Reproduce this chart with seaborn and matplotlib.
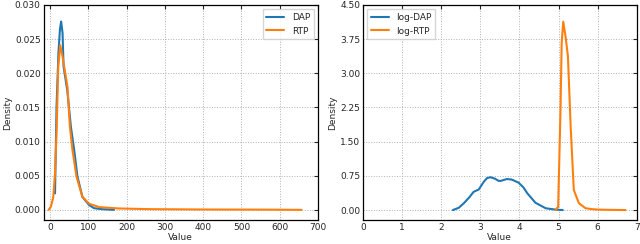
import matplotlib
matplotlib.use("Agg")
import matplotlib.pyplot as plt
import pandas as pd
import seaborn as sns
from matplotlib.ticker import FormatStrFormatter, MultipleLocator

# density curves (left: raw values, right: log values)
dap_x = [13, 17, 22, 26, 29, 32.7, 35.3, 45, 54.4, 63, 71.5, 84.5, 102, 115, 135, 167]
dap_y = [0.0024, 0.0151, 0.0230, 0.0265, 0.02756, 0.0259, 0.0210, 0.0175, 0.0122, 0.0088,
         0.0049, 0.0019, 0.0007, 0.00024, 0.0001, 0.0]
rtp_x = [-3.6, 2.6, 8.5, 13, 17, 21.5, 26.7, 32.7, 45.6, 51.8, 58.5, 69, 84.5, 102, 128,
         180, 260, 400, 550, 657]
rtp_y = [0.0, 0.0005, 0.0019, 0.0054, 0.0112, 0.0210, 0.0241, 0.0224, 0.0180, 0.0122,
         0.0088, 0.0049, 0.0019, 0.0009, 0.0004, 0.0002, 0.0001, 0.00005, 0.00003, 0.0]

log_dap_x = [2.30, 2.45, 2.58, 2.72, 2.83, 2.96, 3.09, 3.17, 3.26, 3.37, 3.47, 3.52, 3.68,
             3.80, 3.98, 4.10, 4.20, 4.41, 4.67, 4.92, 5.11]
log_dap_y = [0.0, 0.05, 0.15, 0.28, 0.40, 0.45, 0.62, 0.70, 0.72, 0.69, 0.64, 0.64, 0.68,
             0.67, 0.60, 0.50, 0.37, 0.16, 0.04, 0.01, 0.0]
log_rtp_x = [4.92, 4.99, 5.05, 5.08, 5.12, 5.18, 5.24, 5.31, 5.39, 5.52, 5.69, 5.85, 6.01,
             6.30, 6.71]
log_rtp_y = [0.0, 0.07, 2.19, 3.66, 4.13, 3.80, 3.37, 1.83, 0.44, 0.15, 0.04, 0.02, 0.01,
             0.005, 0.0]

sns.set_style("white")
plt.rcParams["font.family"] = ["DejaVu Sans"]
plt.rcParams["font.size"] = 6.5

blue = "#1f77b4"
orange = "#ff7f0e"

fig = plt.figure(figsize=(6.4, 2.44), dpi=100)
ax1 = fig.add_axes([0.068, 0.098, 0.429, 0.882])
ax2 = fig.add_axes([0.567, 0.098, 0.428, 0.882])


def curve_frame(x, y):
    return pd.DataFrame({"Value": x, "Density": y})


sns.lineplot(data=curve_frame(dap_x, dap_y), x="Value", y="Density", ax=ax1,
             color=blue, lw=1.5, label="DAP", sort=False)
sns.lineplot(data=curve_frame(rtp_x, rtp_y), x="Value", y="Density", ax=ax1,
             color=orange, lw=1.5, label="RTP", sort=False)
sns.lineplot(data=curve_frame(log_dap_x, log_dap_y), x="Value", y="Density", ax=ax2,
             color=blue, lw=1.5, label="log-DAP", sort=False)
sns.lineplot(data=curve_frame(log_rtp_x, log_rtp_y), x="Value", y="Density", ax=ax2,
             color=orange, lw=1.5, label="log-RTP", sort=False)

ax1.set_xlim(-17, 700)
ax1.set_ylim(-0.0015, 0.030)
ax1.xaxis.set_major_locator(MultipleLocator(100))
ax1.yaxis.set_major_locator(MultipleLocator(0.005))
ax1.yaxis.set_major_formatter(FormatStrFormatter("%.3f"))
ax1.legend(loc="upper right", fontsize=6.5, fancybox=False, edgecolor="#cccccc")

ax2.set_xlim(0, 7)
ax2.set_ylim(-0.22, 4.5)
ax2.xaxis.set_major_locator(MultipleLocator(1))
ax2.yaxis.set_major_locator(MultipleLocator(0.75))
ax2.yaxis.set_major_formatter(FormatStrFormatter("%.2f"))
ax2.legend(loc="upper left", fontsize=6.5, fancybox=False, edgecolor="#cccccc")

for ax in (ax1, ax2):
    ax.grid(True, ls=":", color="#b0b0b0", lw=0.7)
    ax.tick_params(direction="in", top=True, right=True, length=3, width=0.8,
                   labelsize=6.5, pad=2)
    for s in ax.spines.values():
        s.set_color("black")
        s.set_linewidth(0.9)
    ax.set_xlabel("Value", fontsize=6.5, labelpad=1)
    ax.set_ylabel("Density", fontsize=6.5, labelpad=2)

fig.savefig("out.png", dpi=100)
